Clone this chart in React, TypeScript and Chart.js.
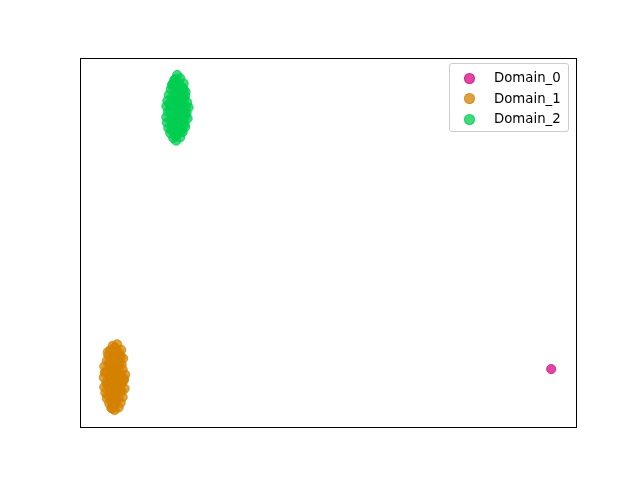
import React, { useEffect, useRef } from "react";
import { Chart, registerables } from "chart.js";

Chart.register(...registerables);

const seriesNames = ["Domain_0", "Domain_1", "Domain_2"];
const seriesColors = ["rgba(214,9,131,0.75)", "rgba(212,129,0,0.75)", "rgba(0,206,80,0.75)"];

const domain0X = [95.0];
const domain0Y = [15.7];

const domain1X = [7.0, 6.3, 7.8, 5.9, 7.1, 8.2, 5.4, 6.6, 7.7, 8.6, 5.1, 6.2, 7.3, 8.4, 9.0, 4.9, 6.0, 7.0, 8.0, 5.3, 6.5, 7.6, 8.8, 4.8, 5.9, 7.1, 8.3, 9.1, 5.2, 6.4, 7.5, 8.6, 4.9, 6.0, 7.2, 8.4, 5.4, 6.6, 7.8, 8.7, 5.7, 6.9, 8.0, 6.1, 7.3, 8.3, 6.6, 7.5, 7.0, 6.8,
  6.7, 7.4, 5.6, 8.1, 6.9, 7.9, 5.5, 6.3, 7.6, 8.5, 5.0, 6.8, 7.9, 5.8, 7.2, 8.2, 6.1, 7.4, 6.5, 7.7, 5.6, 8.9, 6.2, 7.1, 6.4, 7.8];
const domain1Y = [4.6, 5.2, 5.3, 6.4, 6.2, 6.6, 7.8, 7.5, 7.9, 8.1, 9.3, 9.0, 9.4, 9.6, 10.4, 10.8, 10.6, 11.0, 11.2, 12.1, 12.4, 12.0, 12.6, 13.4, 13.8, 13.6, 14.0, 14.2, 15.0, 15.3, 15.1, 15.6, 16.4, 16.8, 16.5, 17.0, 17.9, 18.2, 18.0, 18.6, 19.4, 19.6, 19.8, 20.8, 21.0, 20.9, 22.0, 22.4, 21.6, 14.6,
  5.9, 7.0, 8.6, 10.0, 8.3, 13.1, 11.4, 14.9, 16.2, 11.9, 14.7, 10.1, 17.6, 17.3, 18.8, 19.1, 13.0, 20.2, 5.0, 15.8, 20.3, 13.0, 16.0, 10.0, 6.9, 12.8];

const domain2X = [19.4, 18.8, 20.2, 18.2, 19.6, 20.7, 17.8, 19.0, 20.1, 21.2, 17.5, 18.6, 19.8, 20.9, 21.7, 17.4, 18.5, 19.5, 20.5, 21.5, 17.7, 18.9, 20.0, 21.0, 21.9, 17.4, 18.4, 19.6, 20.6, 21.6, 17.6, 18.8, 19.9, 21.0, 17.9, 19.2, 20.3, 21.3, 18.3, 19.5, 20.6, 18.7, 19.9, 20.9, 19.2, 20.2, 19.6, 19.7, 20.3, 18.9,
  19.3, 20.5, 18.4, 21.1, 19.1, 20.8, 18.1, 19.9, 21.4, 18.6, 20.4, 19.3, 21.2, 18.0, 19.7, 20.9, 18.5, 20.1, 19.0, 21.3, 18.7, 20.6, 19.4, 20.0, 19.8, 18.3];
const domain2Y = [77.6, 78.3, 78.5, 79.6, 79.4, 79.9, 81.0, 80.8, 81.2, 81.3, 82.5, 82.2, 82.7, 82.9, 83.6, 84.0, 83.8, 84.3, 84.5, 85.1, 85.4, 85.7, 85.5, 86.0, 86.6, 86.9, 87.2, 87.0, 87.4, 88.0, 88.4, 88.7, 88.5, 89.0, 90.0, 90.2, 90.4, 90.8, 91.5, 91.8, 91.9, 93.0, 93.2, 93.1, 94.3, 94.5, 95.4, 86.2, 83.0, 92.4,
  78.9, 80.3, 80.5, 82.0, 83.3, 84.0, 85.9, 86.0, 86.9, 89.5, 89.7, 89.2, 89.8, 87.6, 90.9, 91.6, 92.6, 92.6, 94.0, 84.4, 81.7, 87.7, 88.1, 80.2, 92.3, 83.1];

const xs = [domain0X, domain1X, domain2X];
const ys = [domain0Y, domain1Y, domain2Y];

const framePlugin = {
  id: "frame",
  afterDraw(chart: any) {
    const { ctx, chartArea } = chart;
    ctx.save();
    ctx.strokeStyle = "#000";
    ctx.lineWidth = 1;
    ctx.strokeRect(
      Math.round(chartArea.left) + 0.5,
      Math.round(chartArea.top) + 0.5,
      Math.round(chartArea.right - chartArea.left),
      Math.round(chartArea.bottom - chartArea.top)
    );
    ctx.restore();
  },
};

export default function App() {
  const ref = useRef<HTMLCanvasElement>(null);
  useEffect(() => {
    if (!ref.current) return;
    const chart = new Chart(ref.current, {
      type: "scatter",
      data: {
        datasets: seriesNames.map((name, i) => ({
          label: name,
          data: xs[i].map((x, j) => ({ x, y: ys[i][j] })),
          backgroundColor: seriesColors[i],
          borderColor: seriesColors[i],
          borderWidth: 1,
          pointRadius: 4.6,
          pointHoverRadius: 4.6,
        })),
      },
      options: {
        animation: false,
        responsive: false,
        maintainAspectRatio: false,
        layout: { padding: { left: 80, right: 64, top: 58, bottom: 53 } },
        plugins: { legend: { display: false }, tooltip: { enabled: false } },
        scales: {
          x: { display: false, min: 0, max: 100 },
          y: { display: false, min: 0, max: 100 },
        },
      },
      plugins: [framePlugin],
    });
    return () => chart.destroy();
  }, []);

  return (
    <div style={{ position: "fixed", left: 0, top: 0, width: 640, height: 480, background: "#fff" }}>
      <canvas ref={ref} width={640} height={480} style={{ width: 640, height: 480 }} />
      <div
        style={{
          position: "absolute",
          left: 449,
          top: 63,
          width: 118,
          height: 67,
          border: "1px solid #cccccc",
          borderRadius: 3,
          background: "rgba(255,255,255,0.8)",
          fontFamily: "'DejaVu Sans', sans-serif",
          fontSize: 13.3,
          color: "#000",
        }}
      >
        {seriesNames.map((name, i) => (
          <div key={name} style={{ position: "absolute", left: 0, top: 5 + i * 20.5, height: 18, width: 118 }}>
            <span
              style={{
                position: "absolute",
                left: 14,
                top: 3.5,
                width: 9,
                height: 9,
                borderRadius: "50%",
                background: seriesColors[i],
                border: `1px solid ${seriesColors[i]}`,
              }}
            />
            <span style={{ position: "absolute", left: 44, top: 0, lineHeight: "18px", whiteSpace: "nowrap" }}>{name}</span>
          </div>
        ))}
      </div>
    </div>
  );
}
